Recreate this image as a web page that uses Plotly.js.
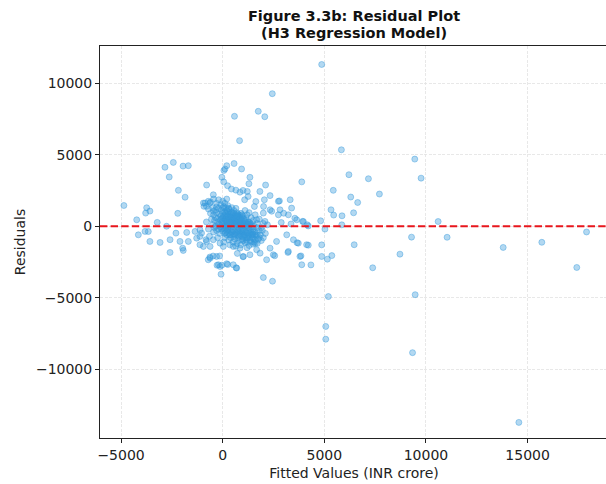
<!DOCTYPE html>
<html>
<head>
<meta charset="utf-8">
<script src="https://cdn.plot.ly/plotly-3.0.1.min.js"></script>
<style>
html,body{margin:0;padding:0;overflow:hidden;background:#fff;}
#chart{width:608px;height:484px;}
</style>
</head>
<body>
<div id="chart"></div>
<script>
// Outlying points (fitted value, residual), INR crore
const outerFitted = [4870,2440,1750,2070,580,830,5840,9450,9760,6210,7170,7710,6300,6640,5440,3890,3320,2790,5330,5460,5870,6440,4820,3930,4160,5860,5030,10600,11040,9290,8720,13800,15700,17900,17420,14570,9340,9470,5200,5070,5070,7380,6470,5370,5150,4870,4870,4210,3850,4340,3210,3660,2450,2000,2560];
const outerResid  = [11300,9260,8030,7650,7680,5980,5340,4690,3360,3600,3320,2250,2040,1660,2510,3100,1850,1770,1150,780,730,940,380,340,100,100,-200,330,-770,-760,-1950,-1480,-1120,-400,-2880,-13700,-8830,-4780,-4910,-7000,-7890,-2900,-1290,-2050,-2300,-2110,-1300,-1320,-2070,-2700,-1830,-1150,-3840,-3580,-2060];

// Points above the main cluster
const upperFitted = [-40,50,110,200,560,930,1340,1290,60,240,650,850,1210,1830,2110,2330,2050,1000,430,1250,1630,1080,1560,2010,2410,3000,3550,3970,4210,2880,3360,3390,2740,3230,3640,2080,1670,2330,2820,2000,2740];
const upperResid  = [3420,3100,4000,4230,4380,4000,3420,2970,3900,2830,2520,2380,2430,2430,2880,2140,1850,2500,2600,2080,1730,1850,1380,1380,1050,910,560,330,20,260,160,1270,800,800,450,340,450,1150,1150,920,1740];

// Points to the left of the cluster
const leftFitted = [-4860,-4230,-3740,-3580,-3790,-4150,-3820,-3660,-3580,-3220,-3080,-2760,-2840,-2430,-1950,-1690,-2630,-2180,-1850,-2210,-2590,-2590,-2300,-2100,-1970,-1940,-1690,-1770,-1360,-1280,-1120,-1040,-790,-870,-920,-710,-710,-1120,-820,-620,-460,-950,-630,-800];
const leftResid  = [1450,450,1290,1060,920,-600,-360,-370,-1060,270,-1130,0,4120,4460,4200,4230,3440,2510,2030,900,-940,-1830,-480,-1060,-1530,-1690,-1060,-430,-360,-830,-1290,-480,2880,1620,1390,1740,-2340,-250,-940,-1410,2200,1620,1620,1390];

// Points below the cluster
const lowerFitted = [-1120,-790,-460,-950,-130,30,520,850,1670,1340,1840,2330,2650,3150,3480,3720,4130,3230,3800,3890,2490,1020,520,-300,-620,-130,690,2160,-210,200,-80,1000,720,-280,-40,250,660,-630,-470,-150];
const lowerResid  = [-710,-1060,-940,-1410,-1180,-1410,-1410,-1530,-1640,-1990,-1880,-1530,-1060,-600,-940,-1180,-1290,-1760,-2110,-2690,-1990,-2110,-2690,-2110,-2230,-2810,-2920,-2340,-2690,-2620,-3350,-2130,-1900,-2720,-2720,-2670,-2900,-2150,-2080,-2080];

// Dense central cluster
const coreFitted = [-600,-450,-300,-200,-100,0,100,150,250,-500,-350,-200,-50,50,200,300,400,-600,-450,-300,-150,0,100,250,350,500,600,700,800,-550,-400,-250,-100,0,100,200,300,400,500,600,700,800,900,1000,1100,1200,1300,-500,-350,-200,-100,0,100,200,300,400,500,600,700,800,900,1000,1100,1200,1300,1400,1500,1600,1700,-450,-300,-150,0,150,250,350,450,550,650,750,850,950,1050,1150,1250,1350,1450,1550,1650,1750,1850,1950,2000,100,300,500,700,900,1100,1300,1500,1200,800,600,400,200,1000,1100,1300,1400,1600,1800,1900,2100,2200,1500,1400,1200,1000,900,1100,1300,1600,1800,2000,200,-700,-800,-700,-650,-250,50,350,650,450,550,650,750,850,950,1050,1150,1250,1350,1450,1550,1700,750,250,150,-50,-200];
const coreResid  = [1700,1900,1600,1850,1500,1750,1600,1300,1450,1300,1150,1250,1100,1350,1100,1250,1000,900,800,950,850,900,1000,850,700,850,700,950,600,500,400,550,450,600,500,650,400,550,450,350,500,300,450,250,400,150,300,100,0,150,-50,200,50,250,100,-100,150,-50,100,-150,50,-200,0,-100,-300,-50,-200,-400,-100,-400,-300,-500,-350,-450,-250,-600,-400,-700,-450,-800,-550,-900,-650,-950,-700,-1000,-800,-1100,-700,-900,-600,-300,-800,-800,-950,-1100,-1200,-1300,-1150,-1350,-1250,-1500,-1000,-600,-800,-600,-500,-800,-600,-400,-600,-300,-100,-500,100,400,600,800,700,900,1100,950,800,500,200,1900,1200,300,-200,-700,-800,-1100,-1300,-1400,300,600,200,-300,200,-400,100,-400,300,100,-600,0,200,750,-50,350,250,-200];

// Densest part of the cluster
const denseFitted = [300,450,550,650,150,250,350,450,550,650,750,850,950,50,150,250,350,450,550,650,750,850,950,1050,1150,-50,50,150,250,350,450,550,650,750,850,950,1050,1150,1250,1350,0,100,200,300,400,500,600,700,800,900,1000,1100,1200,1300,1400,1500,100,200,300,400,500,600,700,800,900,1000,1100,1200,1300,1400,1500,1600,1700,1800,600,800,1000,1200,1400,1600,1000,1200,400,-350,-250,-150,-300,-450,0,-100,200,700,900,1500,1300,1700,1900,-400,-50,150];
const denseResid  = [1200,1300,1100,1250,900,1000,850,950,900,800,850,750,800,700,750,700,600,650,550,600,650,550,600,500,550,500,350,450,500,300,400,250,350,400,300,200,350,250,150,200,-100,-200,50,-150,250,-250,100,-200,50,-300,100,-300,50,-150,150,-400,-500,-350,-500,-350,-550,-350,-600,-400,-650,-350,-600,-450,-800,-600,-850,-950,-600,-800,-900,-700,-1000,-1100,-1100,-1200,-750,-800,-600,600,300,100,1350,1050,1300,700,300,700,100,-550,-500,-1200,-1000,-100,-200,-100];

const fittedValues = [].concat(outerFitted, upperFitted, leftFitted, lowerFitted, coreFitted, denseFitted);
const residuals    = [].concat(outerResid, upperResid, leftResid, lowerResid, coreResid, denseResid);

const xTicks = [-5000, 0, 5000, 10000, 15000];
const xTickText = ['\u22125000', '0', '5000', '10000', '15000'];
const yTicks = [-10000, -5000, 0, 5000, 10000];
const yTickText = ['\u221210000', '\u22125000', '0', '5000', '10000'];

const FONT = 'DejaVu Sans, sans-serif';

const trace = {
  type: 'scatter',
  mode: 'markers',
  x: fittedValues,
  y: residuals,
  marker: {
    size: 6,
    color: 'rgba(52,152,219,0.38)',
    line: {color: 'rgba(52,152,219,0.42)', width: 1}
  },
  hoverinfo: 'x+y',
  showlegend: false
};

const axisCommon = {
  showline: true,
  linecolor: '#222',
  linewidth: 1,
  mirror: true,
  ticks: 'outside',
  ticklen: 4,
  tickwidth: 1,
  tickcolor: '#222',
  showgrid: true,
  gridcolor: '#e2e2e2',
  gridwidth: 0.8,
  griddash: '3px,1.5px',
  zeroline: false,
  tickfont: {family: FONT, size: 14, color: '#222'},
  tickmode: 'array'
};

const layout = {
  width: 608,
  height: 484,
  margin: {l: 100, r: 0, t: 46, b: 46},
  paper_bgcolor: '#fff',
  plot_bgcolor: '#fff',
  font: {family: FONT, color: '#222'},
  title: {
    text: '<b>Figure 3.3b: Residual Plot</b>',
    font: {family: FONT, size: 14.5, color: '#111'},
    x: 0.5, xref: 'paper', xanchor: 'center',
    y: 1 - 16 / 484, yref: 'container', yanchor: 'middle'
  },
  annotations: [{
    text: '<b>(H3 Regression Model)</b>',
    font: {family: FONT, size: 14.5, color: '#111'},
    xref: 'paper', x: 0.5, xanchor: 'center',
    yref: 'paper', y: 1 + (46 - 33.5) / 392, yanchor: 'middle',
    showarrow: false
  }],
  xaxis: Object.assign({}, axisCommon, {
    range: [-6036, 18956],
    tickvals: xTicks,
    ticktext: xTickText,
    title: {text: 'Fitted Values (INR crore)', font: {family: FONT, size: 14, color: '#222'}, standoff: 6}
  }),
  yaxis: Object.assign({}, axisCommon, {
    range: [-14790, 12590],
    tickvals: yTicks,
    ticktext: yTickText,
    title: {text: 'Residuals', font: {family: FONT, size: 14, color: '#222'}, standoff: 7}
  }),
  shapes: [{
    type: 'line', xref: 'paper', x0: 0, x1: 1, yref: 'y', y0: 0, y1: 0,
    line: {color: '#e8161c', width: 2, dash: '7.4px,3.2px'},
    layer: 'above'
  }]
};

Plotly.newPlot('chart', [trace], layout, {displayModeBar: false, staticPlot: true});
</script>
</body>
</html>
